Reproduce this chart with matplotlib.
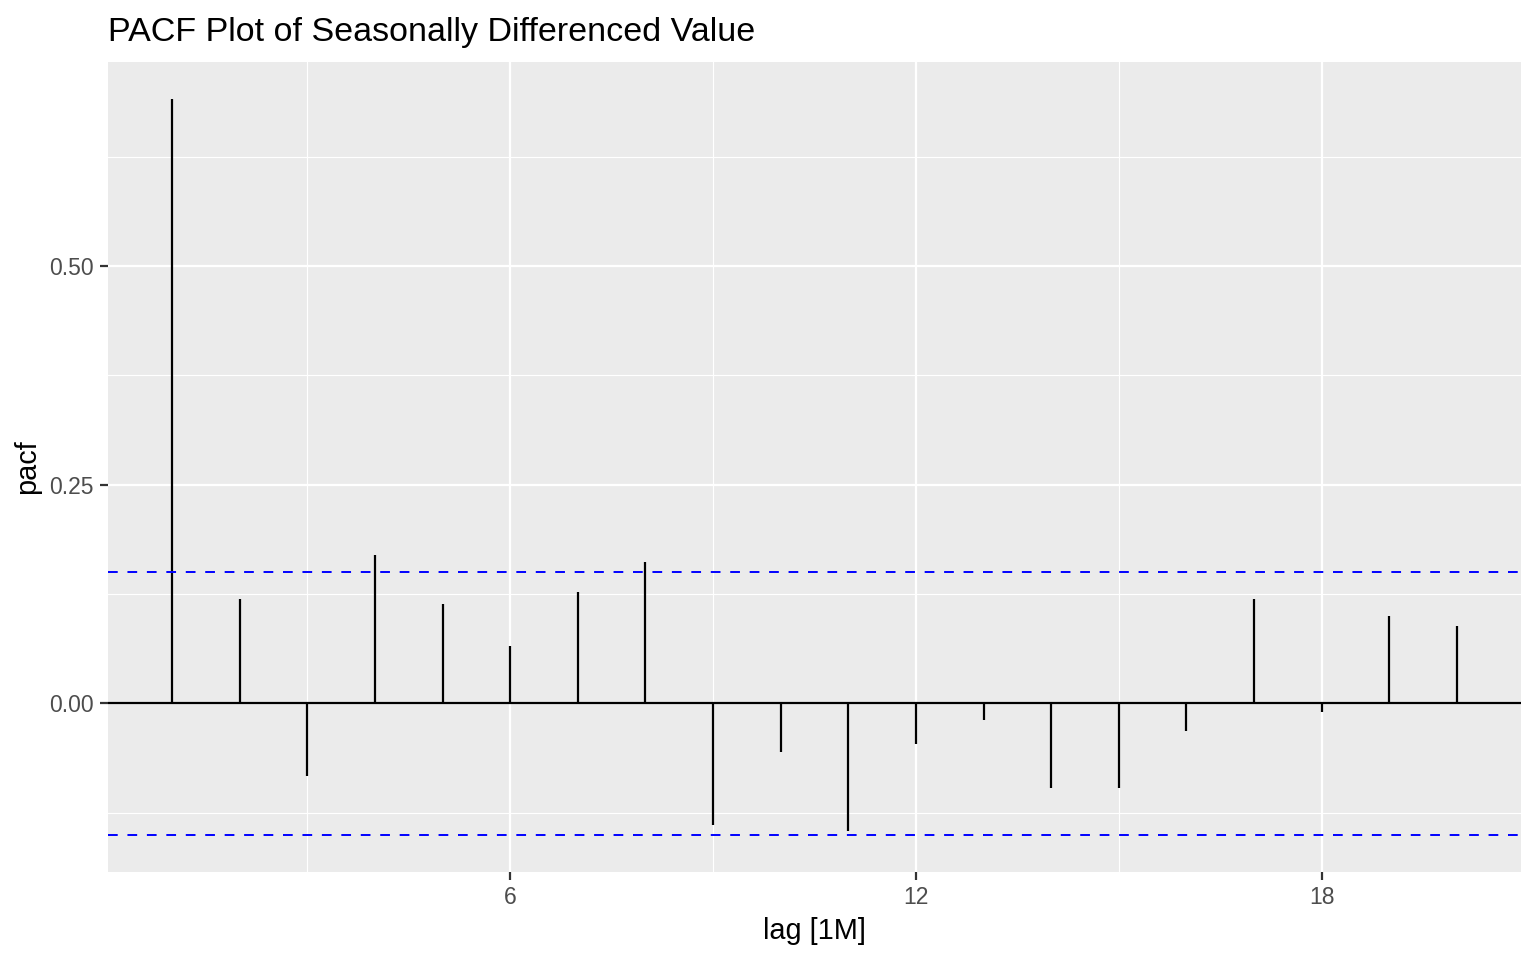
import numpy as np
import matplotlib.pyplot as plt
from matplotlib.ticker import FixedLocator

plt.rcParams['font.family'] = ['Liberation Sans', 'DejaVu Sans']

# PACF values
lags = np.arange(1, 21)
pacf = [0.691, 0.119, -0.083, 0.170, 0.113, 0.065, 0.127, 0.161, -0.139, -0.056,
        -0.146, -0.046, -0.019, -0.097, -0.097, -0.032, 0.119, -0.010, 0.100, 0.088]
ci = 0.1507

fig = plt.figure(figsize=(15.36, 9.6), dpi=100)
ax = fig.add_axes([108 / 1536, 1 - 872 / 960, (1521 - 108) / 1536, (872 - 62) / 960])
ax.set_facecolor('#EBEBEB')

# limits like ggplot's 5% expansion
ymin = min(min(pacf), -ci)
ymax = max(max(pacf), ci)
pad = (ymax - ymin) * 0.05
ax.set_xlim(1 - 0.95, 20 + 0.95)
ax.set_ylim(ymin - pad, ymax + pad)

# grid
ax.xaxis.set_major_locator(FixedLocator([6, 12, 18]))
ax.xaxis.set_minor_locator(FixedLocator([3, 9, 15]))
ax.yaxis.set_major_locator(FixedLocator([0.0, 0.25, 0.5]))
ax.yaxis.set_minor_locator(FixedLocator([-0.125, 0.125, 0.375, 0.625]))
ax.grid(which='major', color='white', linewidth=1.6)
ax.grid(which='minor', color='white', linewidth=0.8)
ax.set_axisbelow(True)
for s in ax.spines.values():
    s.set_visible(False)

ax.axhline(0, color='black', linewidth=1.6)
ax.vlines(lags, 0, pacf, color='black', linewidth=1.6)
ax.axhline(ci, color='blue', linewidth=1.4, linestyle=(0, (5, 5)))
ax.axhline(-ci, color='blue', linewidth=1.4, linestyle=(0, (5, 5)))

ax.set_yticklabels(['0.00', '0.25', '0.50'])
ax.tick_params(which='major', length=6, width=1.6, color='#333333',
               labelcolor='#4D4D4D', labelsize=16.5, pad=4)
ax.tick_params(which='minor', length=0)

ax.set_xlabel('lag [1M]', fontsize=20.8, color='black', labelpad=6)
ax.set_ylabel('pacf', fontsize=20.8, color='black', labelpad=6)
ax.set_title('PACF Plot of Seasonally Differenced Value', fontsize=24.5,
             loc='left', pad=15)

fig.savefig('out.png', dpi=100)
